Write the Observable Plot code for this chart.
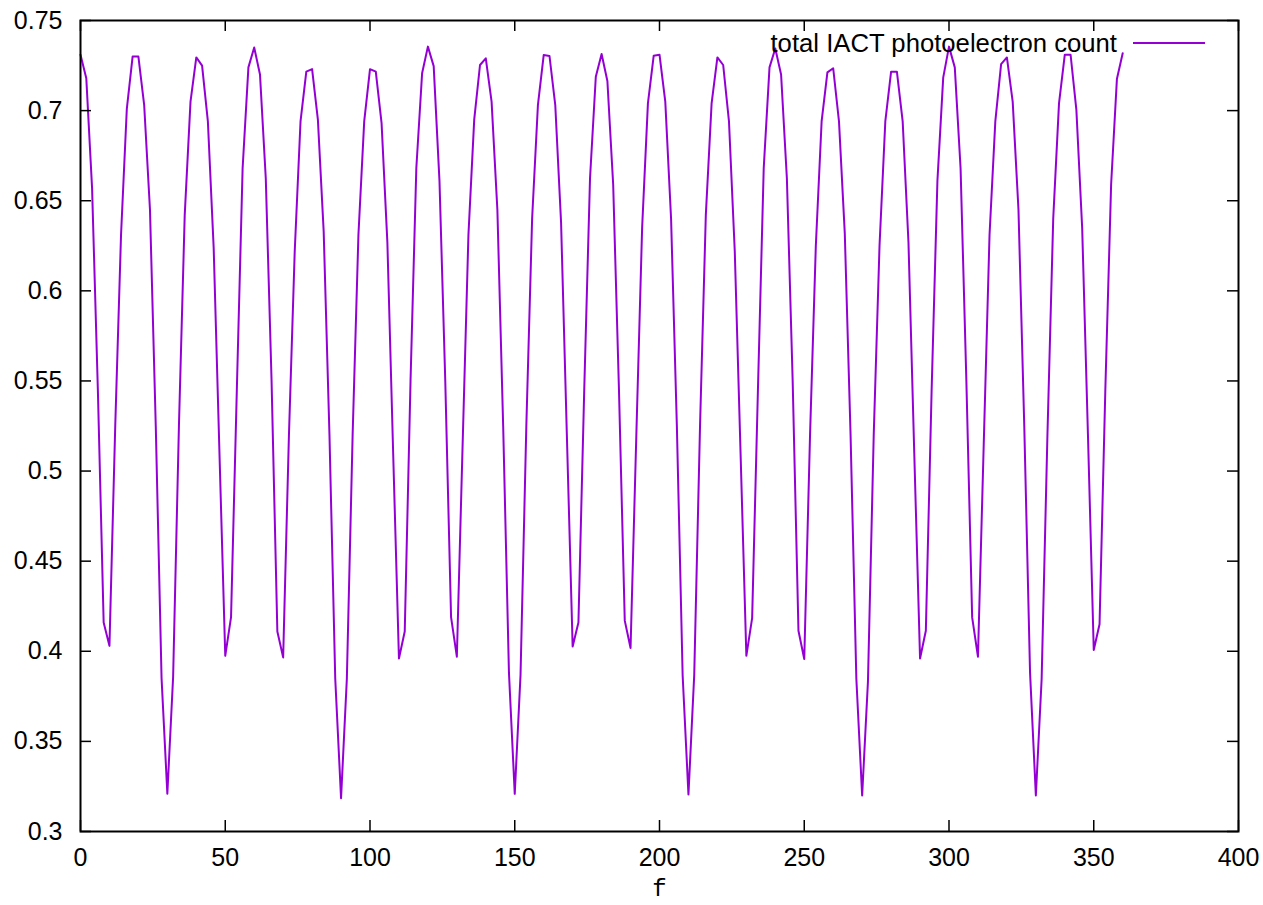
<!DOCTYPE html>
<html>
<head>
<meta charset="utf-8">
<script src="https://cdn.jsdelivr.net/npm/d3@7"></script>
<script src="https://cdn.jsdelivr.net/npm/@observablehq/plot@0.6"></script>
<style>
  html, body { margin: 0; padding: 0; background: #fff; }
  #wrap { position: relative; width: 1263px; height: 905px; overflow: hidden; }
  #legend-text { position: absolute; left: 0; width: 1117px; top: 31px; text-align: right;
    font-family: "Liberation Sans", Arial, sans-serif; font-size: 25.7px; line-height: 1; color: #000; white-space: nowrap; }
  #legend-line { position: absolute; left: 1133px; top: 42px; width: 72px; height: 2px; background: #9400d3; }
</style>
</head>
<body>
<div id="wrap"></div>
<script>
// ---- data ----
const angles = [
  0, 2, 4, 6, 8, 10, 12, 14, 16, 18,
  20, 22, 24, 26, 28, 30, 32, 34, 36, 38,
  40, 42, 44, 46, 48, 50, 52, 54, 56, 58,
  60, 62, 64, 66, 68, 70, 72, 74, 76, 78,
  80, 82, 84, 86, 88, 90, 92, 94, 96, 98,
  100, 102, 104, 106, 108, 110, 112, 114, 116, 118,
  120, 122, 124, 126, 128, 130, 132, 134, 136, 138,
  140, 142, 144, 146, 148, 150, 152, 154, 156, 158,
  160, 162, 164, 166, 168, 170, 172, 174, 176, 178,
  180, 182, 184, 186, 188, 190, 192, 194, 196, 198,
  200, 202, 204, 206, 208, 210, 212, 214, 216, 218,
  220, 222, 224, 226, 228, 230, 232, 234, 236, 238,
  240, 242, 244, 246, 248, 250, 252, 254, 256, 258,
  260, 262, 264, 266, 268, 270, 272, 274, 276, 278,
  280, 282, 284, 286, 288, 290, 292, 294, 296, 298,
  300, 302, 304, 306, 308, 310, 312, 314, 316, 318,
  320, 322, 324, 326, 328, 330, 332, 334, 336, 338,
  340, 342, 344, 346, 348, 350, 352, 354, 356, 358,
  360
];
const photoelectrons = [
  0.731, 0.718, 0.657, 0.545, 0.416, 0.403, 0.525, 0.631, 0.701, 0.730,
  0.730, 0.703, 0.645, 0.525, 0.385, 0.321, 0.386, 0.525, 0.642, 0.705,
  0.7295, 0.725, 0.694, 0.624, 0.510, 0.3975, 0.419, 0.545, 0.668, 0.724,
  0.735, 0.720, 0.6625, 0.550, 0.411, 0.3966, 0.520, 0.622, 0.694, 0.7216,
  0.723, 0.695, 0.633, 0.520, 0.3846, 0.3185, 0.3846, 0.520, 0.631, 0.694,
  0.723, 0.7216, 0.693, 0.627, 0.510, 0.396, 0.411, 0.550, 0.668, 0.7207,
  0.7355, 0.7247, 0.661, 0.550, 0.419, 0.397, 0.515, 0.631, 0.695, 0.7253,
  0.729, 0.705, 0.645, 0.525, 0.388, 0.3209, 0.387, 0.525, 0.640, 0.703,
  0.7308, 0.7303, 0.703, 0.638, 0.520, 0.4027, 0.416, 0.545, 0.6625, 0.7188,
  0.7314, 0.7164, 0.659, 0.545, 0.417, 0.4018, 0.520, 0.635, 0.704, 0.7305,
  0.731, 0.705, 0.640, 0.525, 0.3864, 0.3205, 0.387, 0.525, 0.642, 0.704,
  0.7295, 0.7253, 0.694, 0.622, 0.510, 0.3975, 0.4184, 0.545, 0.668, 0.724,
  0.7345, 0.720, 0.6625, 0.550, 0.4114, 0.3957, 0.520, 0.625, 0.694, 0.7212,
  0.7235, 0.694, 0.632, 0.520, 0.3846, 0.320, 0.383, 0.520, 0.625, 0.694,
  0.7216, 0.7216, 0.694, 0.627, 0.510, 0.396, 0.4114, 0.545, 0.661, 0.7183,
  0.7355, 0.724, 0.668, 0.550, 0.4188, 0.397, 0.515, 0.631, 0.694, 0.7258,
  0.7295, 0.705, 0.645, 0.525, 0.388, 0.320, 0.3846, 0.520, 0.640, 0.704,
  0.731, 0.731, 0.7004, 0.635, 0.520, 0.4007, 0.415, 0.545, 0.659, 0.7175,
  0.7318
];
const xTicks = [0, 50, 100, 150, 200, 250, 300, 350, 400];
const yTicks = [0.3, 0.35, 0.4, 0.45, 0.5, 0.55, 0.6, 0.65, 0.7, 0.75];
const seriesName = "total IACT photoelectron count";
const xLabel = "f";
const lineColor = "#9400d3";

// ---- chart ----
const W = 1263, H = 905;
const mL = 80, mR = 25, mT = 20, mB = 74;
const plotW = W - mL - mR, plotH = H - mT - mB;
const tickLen = 11;

const data = angles.map((f, i) => ({f, v: photoelectrons[i]}));

const chart = Plot.plot({
  width: W, height: H,
  marginLeft: mL, marginRight: mR, marginTop: mT, marginBottom: mB,
  style: {fontFamily: "'Liberation Sans', Arial, sans-serif", fontSize: "25px", background: "#fff", color: "#000", overflow: "visible"},
  x: {domain: [xTicks[0], xTicks[xTicks.length - 1]]},
  y: {domain: [yTicks[0], yTicks[yTicks.length - 1]]},
  marks: [
    Plot.line(data, {x: "f", y: "v", stroke: lineColor, strokeWidth: 2}),
    Plot.axisX(xTicks, {tickSize: 0, tickPadding: 17, label: null}),
    Plot.axisY(yTicks, {tickSize: 0, tickPadding: 18, label: null, tickFormat: d => String(+d.toFixed(2))}),
    Plot.tickX(xTicks, {x: d => d, stroke: "#000", strokeWidth: 1.5, insetTop: plotH - tickLen}),
    Plot.tickX(xTicks, {x: d => d, stroke: "#000", strokeWidth: 1.5, insetBottom: plotH - tickLen}),
    Plot.tickY(yTicks, {y: d => d, stroke: "#000", strokeWidth: 1.5, insetRight: plotW - tickLen}),
    Plot.tickY(yTicks, {y: d => d, stroke: "#000", strokeWidth: 1.5, insetLeft: plotW - tickLen}),
    Plot.frame({stroke: "#000", strokeWidth: 2}),
    Plot.text([xLabel], {text: d => d, frameAnchor: "bottom", dy: 64, fontFamily: "'Liberation Mono', 'DejaVu Sans Mono', monospace", fontSize: 24})
  ]
});

const wrap = document.getElementById("wrap");
wrap.appendChild(chart);
const lt = document.createElement("div");
lt.id = "legend-text";
lt.textContent = seriesName;
wrap.appendChild(lt);
const ll = document.createElement("div");
ll.id = "legend-line";
wrap.appendChild(ll);
</script>
</body>
</html>
